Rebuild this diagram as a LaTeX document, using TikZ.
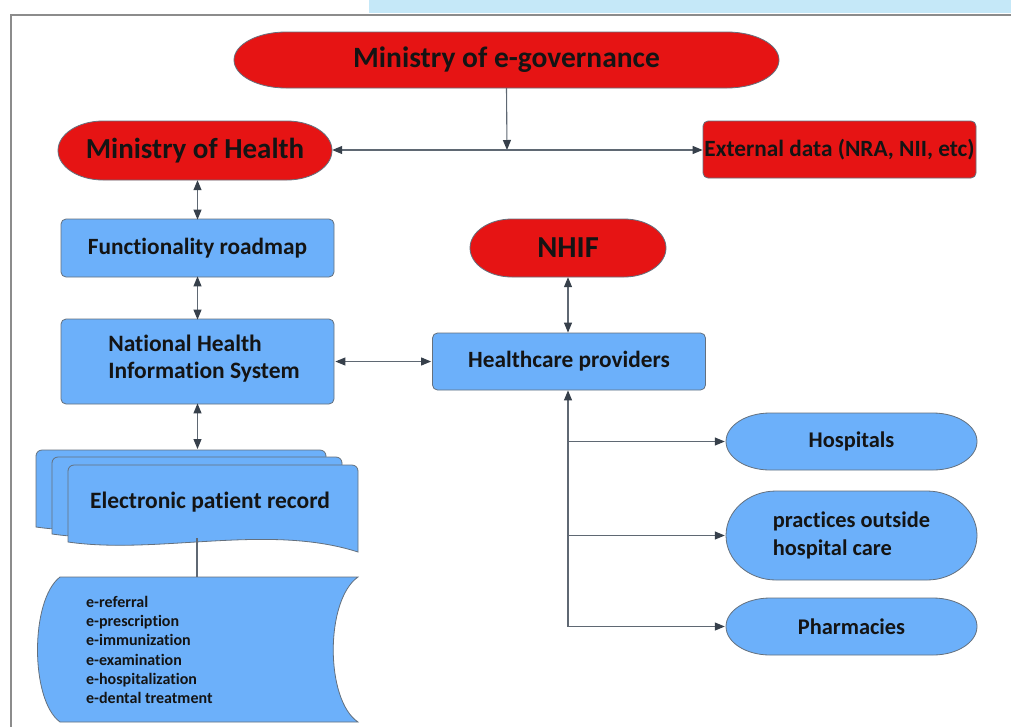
\documentclass[tikz,border=0pt]{standalone}
\usepackage{fontspec}
\setmainfont{Carlito}[Ligatures=NoCommon]
\usetikzlibrary{arrows.meta}
\definecolor{redfill}{RGB}{230,20,20}
\definecolor{bluefill}{RGB}{108,176,250}
\definecolor{edgegray}{RGB}{100,112,125}
\definecolor{linegray}{RGB}{95,104,115}
\definecolor{tipgray}{RGB}{55,64,75}
\definecolor{framegray}{RGB}{140,140,140}
\definecolor{bandblue}{RGB}{197,232,248}
\definecolor{txt}{RGB}{20,20,20}
\tikzset{
  redshape/.style={draw=edgegray, line width=0.8pt, fill=redfill},
  blueshape/.style={draw=edgegray, line width=0.8pt, fill=bluefill},
  label/.style={inner sep=0pt, text=txt, font=\bfseries},
  redbox/.style={redshape, rounded corners=5pt, inner sep=0pt, text=txt, font=\bfseries},
  bluebox/.style={blueshape, rounded corners=5pt, minimum width=273pt, inner sep=0pt,
    text=txt, font=\bfseries\fontsize{23.3}{28}\selectfont},
  pilllabel/.style={label, font=\bfseries\fontsize{22.4}{27.5}\selectfont, align=left},
  conn/.style={draw=linegray, line width=1.1pt},
  arr/.style={conn, -{Triangle[length=10pt,width=8pt,color=tipgray]}},
  darr/.style={conn, {Triangle[length=10pt,width=8pt,color=tipgray]}-{Triangle[length=10pt,width=8pt,color=tipgray]}},
  sheet/.style={blueshape},
}
% stadium with elliptic ends: centre (#1,#2), size #3 x #4, end radius #5, style #6
\newcommand{\pillshape}[6]{%
  \pgfmathsetmacro\pillL{#1-#3/2+#5}%
  \pgfmathsetmacro\pillR{#1+#3/2-#5}%
  \pgfmathsetmacro\pillT{#2-#4/2}%
  \pgfmathsetmacro\pillB{#2+#4/2}%
  \pgfmathsetmacro\pillH{#4/2}%
  \path[#6] (\pillR,\pillT) arc[start angle=90, end angle=-90, x radius=#5pt, y radius=\pillH pt]
    -- (\pillL,\pillB) arc[start angle=270, end angle=90, x radius=#5pt, y radius=\pillH pt] -- cycle;}
% one sheet of the multi-document symbol, top-left corner at (#1,#2)
\newcommand{\docsheet}[2]{%
  \path[sheet] (#1,#2+77) -- (#1,#2+5) [rounded corners=6pt] -- (#1,#2) -- (#1+290,#2)
    [sharp corners] -- (#1+290,#2+87)
    .. controls (#1+200,#2+58) and (#1+90,#2+90) .. (#1,#2+77) -- cycle;}
\begin{document}
\begin{tikzpicture}[x=1pt,y=-1pt]
\useasboundingbox (0,0) rectangle (1011,726);
\fill[white] (0,0) rectangle (1011,726);
% page band and frame
\fill[bandblue] (369,0) rectangle (1011,13);
\draw[framegray, line width=2.4pt] (1012,15) -- (11,15) -- (11,727);

% governance level
\pillshape{506.5}{60}{545}{56}{52}{redshape}
\node[label, minimum width=545pt, minimum height=56pt,
  font=\bfseries\fontsize{29.5}{34}\selectfont] (egov) at (506.5,60) {Ministry of e-governance};
\pillshape{195}{150.5}{274}{59}{45}{redshape}
\node[label, minimum width=274pt, minimum height=59pt,
  font=\bfseries\fontsize{29}{34}\selectfont] (moh) at (195,150.5) {Ministry of Health};
\node[redbox, minimum width=273pt, minimum height=57pt,
  font=\bfseries\fontsize{23.3}{28}\selectfont] (ext) at (839.5,149.5) {External data (NRA, NII, etc)};

% health information system
\node[bluebox, minimum height=58pt] (fr) at (197.5,248) {Functionality roadmap};
\node[bluebox, minimum height=85pt] (nhis) at (197.5,361.5) {};
\node[label, align=left, font=\bfseries\fontsize{23.5}{27}\selectfont] (nhistext) at (204,358.5)
  {National Health\\Information System};

% fund and providers
\pillshape{568}{248}{196}{58}{42}{redshape}
\node[label, minimum width=196pt, minimum height=58pt,
  font=\bfseries\fontsize{30.5}{34}\selectfont] (nhif) at (568,248) {NHIF};
\node[bluebox, minimum height=57pt] (hp) at (569,361.5) {Healthcare providers};
\pillshape{851.5}{441.5}{251}{57}{44}{blueshape}
\node[pilllabel, minimum width=251pt, minimum height=57pt] (hosp) at (851.5,441.5) {Hospitals};
\pillshape{851.5}{535.5}{251}{89}{50}{blueshape}
\node[pilllabel, minimum width=251pt, minimum height=89pt] (prac) at (851.5,535.5)
  {practices outside\\hospital care};
\pillshape{851.5}{626.5}{251}{57}{44}{blueshape}
\node[pilllabel, minimum width=251pt, minimum height=57pt] (pharm) at (851.5,626.5) {Pharmacies};

% electronic patient record (stacked documents)
\docsheet{36}{450}
\docsheet{52}{457}
\docsheet{68}{465}
\node[label, font=\bfseries\fontsize{23.5}{28}\selectfont] (epr) at (210,502) {Electronic patient record};
\coordinate (eprtop) at (197.5,449);
\coordinate (eprbot) at (197,538);

% stored e-services
\path[sheet] (60,577) -- (358,577) .. controls (325,600) and (325,700) .. (358,722)
  -- (60,722) .. controls (30,700) and (30,600) .. (60,577) -- cycle;
\coordinate (estop) at (197,577);
\node[label, anchor=west, align=left, font=\bfseries\fontsize{16}{19.3}\selectfont] (elist) at (86,650)
  {e-referral\\e-prescription\\e-immunization\\e-examination\\e-hospitalization\\e-dental treatment};

% connectors
\coordinate (j) at (507,150);
\draw[arr] (egov.south) -- (j);
\draw[arr] (j) -- (j -| moh.east);
\draw[arr] (j) -- (j -| ext.west);
\draw[darr] (fr.north |- moh.south) -- ([yshift=-1pt]fr.north);
\draw[darr] ([yshift=1pt]fr.south) -- ([yshift=-1pt]nhis.north);
\draw[darr] ([yshift=1pt]nhis.south) -- (eprtop);
\draw[darr] ([xshift=1pt]nhis.east |- hp.west) -- ([xshift=-1pt]hp.west);
\draw[darr] (hp.north -| nhif.south) -- (nhif.south);
\draw[conn] (eprbot) -- (estop);

\coordinate (b1) at (568,441.5);
\coordinate (b2) at (568,535.5);
\coordinate (b3) at (568,626.5);
\draw[arr] (b3) -- (b3 |- hp.south);
\draw[arr] (b1) -- ([xshift=-1pt]hosp.west);
\draw[arr] (b2) -- ([xshift=-1pt]prac.west);
\draw[arr] (b3) -- ([xshift=-1pt]pharm.west);
\end{tikzpicture}
\end{document}
